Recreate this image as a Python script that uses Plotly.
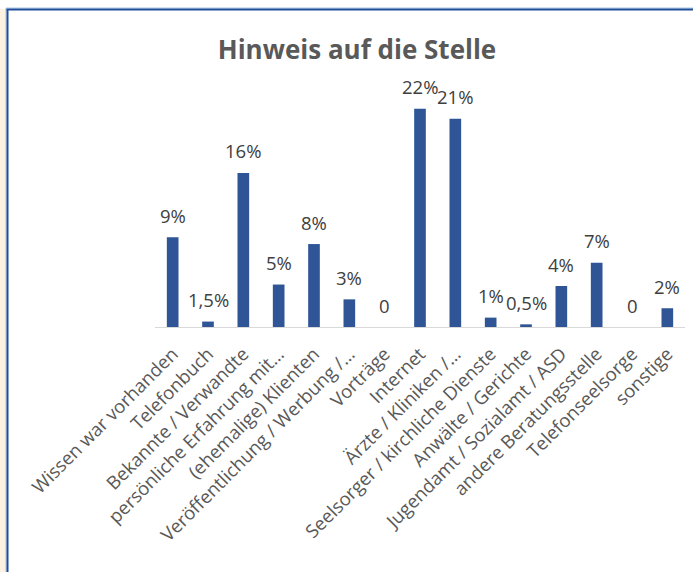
import plotly.graph_objects as go

# data (bar heights in %, and the printed labels)
categories = ["Wissen war vorhanden", "Telefonbuch", "Bekannte / Verwandte",
              "persönliche Erfahrung mit…", "(ehemalige) Klienten",
              "Veröffentlichung / Werbung /…", "Vorträge", "Internet",
              "Ärzte / Kliniken /…", "Seelsorger / kirchliche Dienste",
              "Anwälte / Gerichte", "Jugendamt / Sozialamt / ASD",
              "andere Beratungsstelle", "Telefonseelsorge", "sonstige"]
values = [9.1, 0.55, 15.6, 4.3, 8.4, 2.8, 0, 22.1, 21.1, 0.95, 0.27, 4.15, 6.5, 0, 1.9]
value_labels = ["9%", "1,5%", "16%", "5%", "8%", "3%", "0", "22%", "21%",
                "1%", "0,5%", "4%", "7%", "0", "2%"]

W, H = 693, 572
ML, MR, MT, MB = 155, 8, 90, 245
PW, PH = W - ML - MR, H - MT - MB


def px_x(p):
    return (p - ML) / PW


def px_y(p):
    return (H - MB - p) / PH


fig = go.Figure()

fig.add_bar(
    x=categories,
    y=values,
    marker=dict(color="#2F5597", line=dict(width=0)),
    showlegend=False,
    hoverinfo="skip",
)

for c, v, t in zip(categories, values, value_labels):
    fig.add_annotation(
        x=c, y=v, text=t, showarrow=False,
        xref="x", yref="y", yanchor="middle", yshift=22,
        font=dict(family="Open Sans", size=18.5, color="#404040"),
    )

# frame of the page: beige strip, light and dark blue border lines
fig.add_shape(type="rect", xref="paper", yref="paper", layer="below",
              x0=px_x(0), x1=px_x(6), y0=px_y(H), y1=px_y(9),
              fillcolor="#FDF2E2", line=dict(width=0))
fig.add_shape(type="line", xref="paper", yref="paper",
              x0=px_x(6), x1=px_x(6), y0=px_y(H), y1=px_y(8),
              line=dict(color="#A8C2E6", width=1))
fig.add_shape(type="line", xref="paper", yref="paper",
              x0=px_x(6), x1=px_x(W), y0=px_y(8), y1=px_y(8),
              line=dict(color="#A8C2E6", width=1))
fig.add_shape(type="line", xref="paper", yref="paper",
              x0=px_x(7.5), x1=px_x(7.5), y0=px_y(H), y1=px_y(9.5),
              line=dict(color="#1F4E99", width=2))
fig.add_shape(type="line", xref="paper", yref="paper",
              x0=px_x(6.5), x1=px_x(W), y0=px_y(9.5), y1=px_y(9.5),
              line=dict(color="#1F4E99", width=2))

fig.update_layout(
    title=dict(
        text="<b>Hinweis auf die Stelle</b>",
        x=357 / W, xanchor="center",
        y=1 - 50 / H, yanchor="middle",
        font=dict(family="Open Sans", size=26, color="#595959"),
    ),
    width=W,
    height=H,
    margin=dict(l=ML, r=MR, t=MT, b=MB, pad=0),
    paper_bgcolor="white",
    plot_bgcolor="white",
    bargap=0.67,
    font=dict(family="Open Sans", size=18, color="#595959"),
)

fig.update_xaxes(
    tickangle=-45,
    showline=True, linecolor="#D9D9D9", linewidth=1,
    showgrid=False, ticks="", ticklabelstandoff=8,
    tickfont=dict(family="Open Sans", size=18.5, color="#595959"),
)
fig.update_yaxes(
    range=[0, 24], visible=False, showgrid=False, zeroline=False,
)

# page has no body margin, so the figure starts at the window corner
fig.write_html("out.html", config={"displayModeBar": False},
               post_script="document.body.style.margin = '0';")
